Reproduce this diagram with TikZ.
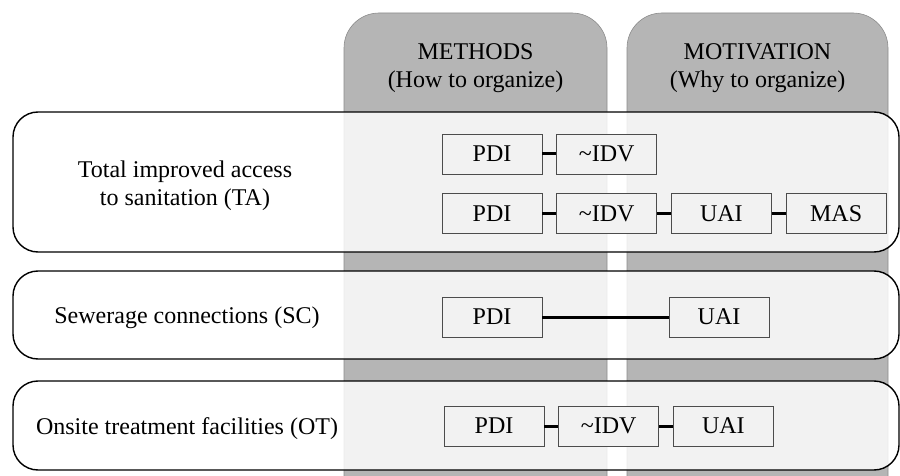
\documentclass[tikz,border=0pt]{standalone}
\usepackage{fontspec}
\setmainfont{Liberation Serif}
\usetikzlibrary{positioning}

\begin{document}
\begin{tikzpicture}[x=1pt,y=-1pt,line width=.8pt,
    font=\fontsize{24}{28}\selectfont,
    col/.style={draw=black!45,line width=.6pt,fill=black!29,rounded corners=35pt},
    row/.style={draw,line width=1.4pt,fill=white,fill opacity=.83,rounded corners=25pt},
    box/.style={draw=black!70,line width=.7pt,fill=black!5,minimum width=100pt,minimum height=40pt,inner sep=0pt},
    link/.style={line width=3pt},
    node distance=14pt]
        \useasboundingbox (0,0) rectangle (900,476);
        \clip (0,0) rectangle (900,476);

        % columns
        \draw[col] (344,13) rectangle (607,520);
        \draw[col] (627,13) rectangle (888,520);
        \node[align=center] (methods) at (475.5,68) {METHODS\\(How to organize)};
        \node[align=center] (motiv) at (757.5,68) {MOTIVATION\\(Why to organize)};

        % rows
        \draw[row] (13,112) rectangle (899,252);
        \draw[row] (13,271) rectangle (899,359);
        \draw[row] (13,381) rectangle (899,470);
        \node[align=center] (ta) at (185,186) {Total improved access\\to sanitation (TA)};
        \node (sc) at (187,318) {Sewerage connections (SC)};
        \node (ot) at (187,429) {Onsite treatment facilities (OT)};

        \node[box] (PDI1) at (492,154) {PDI};
        \node[box,right=of PDI1] (IDV1) {\textasciitilde IDV};

        \node[box] (PDI2) at (492,213.5) {PDI};
        \node[box,right=of PDI2] (IDV2) {\textasciitilde IDV};
        \node[box,right=of IDV2] (UAI2) {UAI};
        \node[box,right=of UAI2] (MAS2) {MAS};

        \node[box] (PDI3) at (492,317) {PDI};
        \node[box] (UAI3) at (719,317) {UAI};

        \node[box] (PDI4) at (494,426) {PDI};
        \node[box,right=of PDI4] (IDV4) {\textasciitilde IDV};
        \node[box,right=of IDV4] (UAI4) {UAI};

        \draw[link] (PDI1) -- (IDV1);
        \draw[link] (PDI2) -- (IDV2);
        \draw[link] (IDV2) -- (UAI2);
        \draw[link] (UAI2) -- (MAS2);
        \draw[link] (PDI3) -- (UAI3);
        \draw[link] (PDI4) -- (IDV4);
        \draw[link] (IDV4) -- (UAI4);
      \end{tikzpicture}
\end{document}
